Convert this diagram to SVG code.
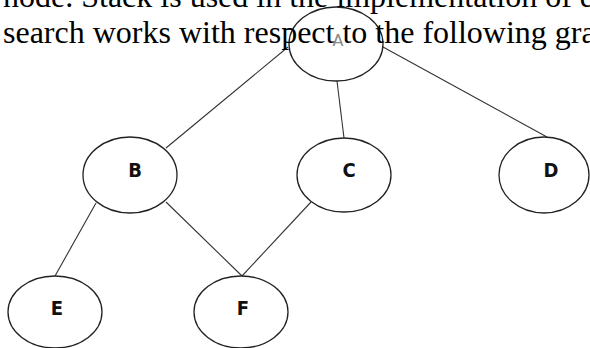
<svg xmlns="http://www.w3.org/2000/svg" width="590" height="348" viewBox="0 0 590 348">
<style>
.n{fill:#fff;stroke:#222;stroke-width:1.3}
.l{font-family:"DejaVu Sans Condensed","DejaVu Sans",sans-serif;font-size:20px;font-weight:bold;fill:#111;text-anchor:middle}
.e{stroke:#333;stroke-width:1.1;fill:none}
.t{font-family:"Liberation Serif","Times New Roman",serif;font-size:32px;fill:#000}
</style>
<rect width="590" height="348" fill="#fff"/>
<g id="connectors">
<line class="e" x1="288" y1="47" x2="166" y2="148"/>
<line class="e" x1="337" y1="81" x2="344" y2="138"/>
<line class="e" x1="383" y1="47" x2="547" y2="137"/>
<line class="e" x1="96" y1="203" x2="55" y2="276"/>
<line class="e" x1="166" y1="202" x2="242" y2="276"/>
<line class="e" x1="311" y1="202" x2="242" y2="276"/>
</g>
<g id="node-A"><ellipse class="n" cx="336" cy="44" rx="47" ry="37"/><text x="338" y="46" font-family="DejaVu Sans, sans-serif" font-size="16" fill="#888" text-anchor="middle">A</text></g>
<g id="node-B"><ellipse class="n" cx="130" cy="175" rx="47" ry="38"/><text class="l" x="135" y="177">B</text></g>
<g id="node-C"><ellipse class="n" cx="344" cy="175" rx="47" ry="37"/><text class="l" x="349" y="177">C</text></g>
<g id="node-D"><ellipse class="n" cx="544" cy="175" rx="45" ry="38"/><text class="l" x="551" y="177">D</text></g>
<g id="node-E"><ellipse class="n" cx="55" cy="312" rx="47" ry="36"/><text class="l" x="57" y="315">E</text></g>
<g id="node-F"><ellipse class="n" cx="241" cy="312" rx="47" ry="36"/><text class="l" x="243" y="315">F</text></g>
<text class="t" x="3" y="7">node. Stack is used in the implementation of d</text>
<text class="t" x="3" y="43">search works with respect to the following gra</text>
</svg>
